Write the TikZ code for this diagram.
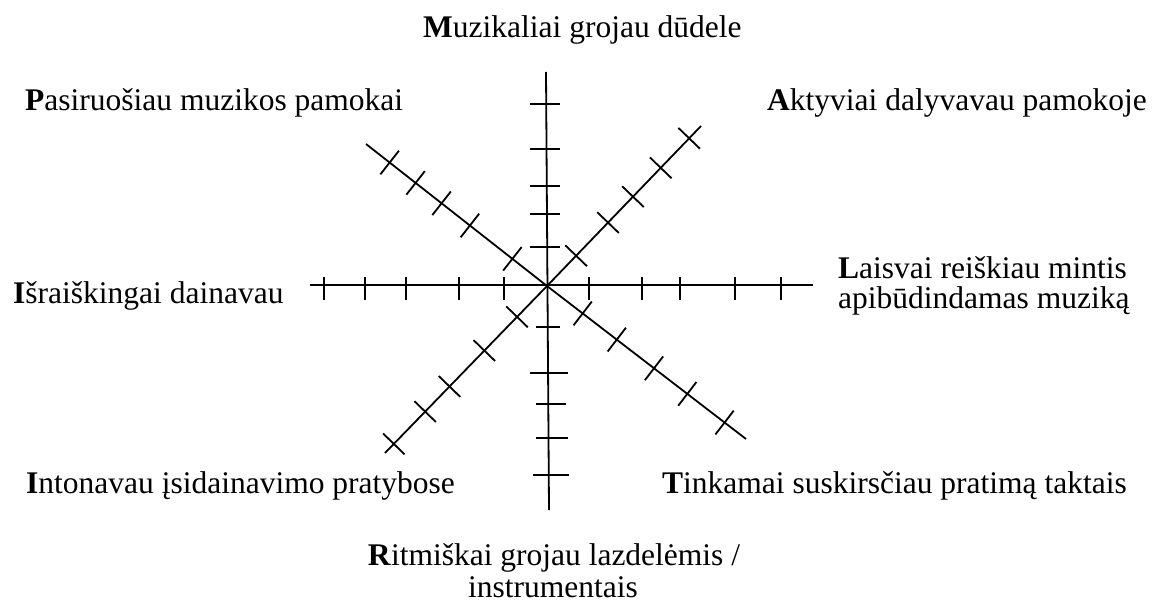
\documentclass[tikz,border=0pt]{standalone}
\usepackage{fontspec}
\setmainfont{Liberation Serif}
\usetikzlibrary{calc}
\begin{document}
\begin{tikzpicture}[x=1pt,y=-1pt,
  axis/.style={line width=1.8pt},
  tk/.style={line width=1.8pt},
  lbl/.style={inner sep=0pt, font=\fontsize{31.5}{31.5}\selectfont}]
\useasboundingbox (0,0) rectangle (1158,604);
% axis ends
\coordinate (C) at (547,286);
\coordinate (W) at (310,285);
\coordinate (E) at (813,285);
\coordinate (N) at (546,72);
\coordinate (S) at (549,510);
\coordinate (NW) at (366,144);
\coordinate (NE) at (701,126);
\coordinate (SW) at (385,453);
\coordinate (SE) at (746,439);
% axes
\draw[axis] (W) -- (E);
\draw[axis] (N) -- (S);
\draw[axis] (C) -- (NW);
\draw[axis] (C) -- (NE);
\draw[axis] (C) -- (SW);
\draw[axis] (C) -- (SE);
% ticks on horizontal axis
\foreach \x in {324,365,406,459,504,589,642,680,735,781}
  \draw[tk] (\x,277) -- (\x,300);
% ticks on vertical axis
\foreach \y in {104,149,186,214,247}
  \draw[tk] (530,\y) -- (560,\y);
\foreach \y/\a/\b in {327/536/560, 373/530/568, 404/536/566, 438/536/568, 475/533/569}
  \draw[tk] (\a,\y) -- (\b,\y);
% ticks on diagonals
\foreach \e/\ds in {NW/{44,98,134,167,200}, NE/{42,88,124,164,205}, SW/{43,90,140,175,220}, SE/{45,88,135,177,224}} {
  \foreach \d in \ds {
    \coordinate (t) at ($(C)!\d pt!(\e)$);
    \draw[tk] ($(t)!15pt!90:(\e)$) -- ($(t)!15pt!-90:(\e)$);
  }
}
% labels
\node[lbl, anchor=base west] (lm) at (423,38) {\textbf{M}uzikaliai grojau dūdele};
\node[lbl, anchor=base west] (lp) at (25,111) {\textbf{P}asiruošiau muzikos pamokai};
\node[lbl, anchor=base west] (la) at (767,111) {\textbf{A}ktyviai dalyvavau pamokoje};
\node[lbl, anchor=base west] (ll1) at (838,278) {\textbf{L}aisvai reiškiau mintis};
\node[lbl, anchor=base west] (ll2) at (838,308) {apibūdindamas muziką};
\node[lbl, anchor=base west] (li) at (13,303) {\textbf{I}šraiškingai dainavau};
\node[lbl, anchor=base west] (lin) at (26,493) {\textbf{I}ntonavau įsidainavimo pratybose};
\node[lbl, anchor=base west] (lt) at (662,493) {\textbf{T}inkamai suskirsčiau pratimą taktais};
\node[lbl, anchor=base] (lr1) at (554,565) {\textbf{R}itmiškai grojau lazdelėmis /};
\node[lbl, anchor=base] (lr2) at (553,597) {instrumentais};
\end{tikzpicture}
\end{document}
